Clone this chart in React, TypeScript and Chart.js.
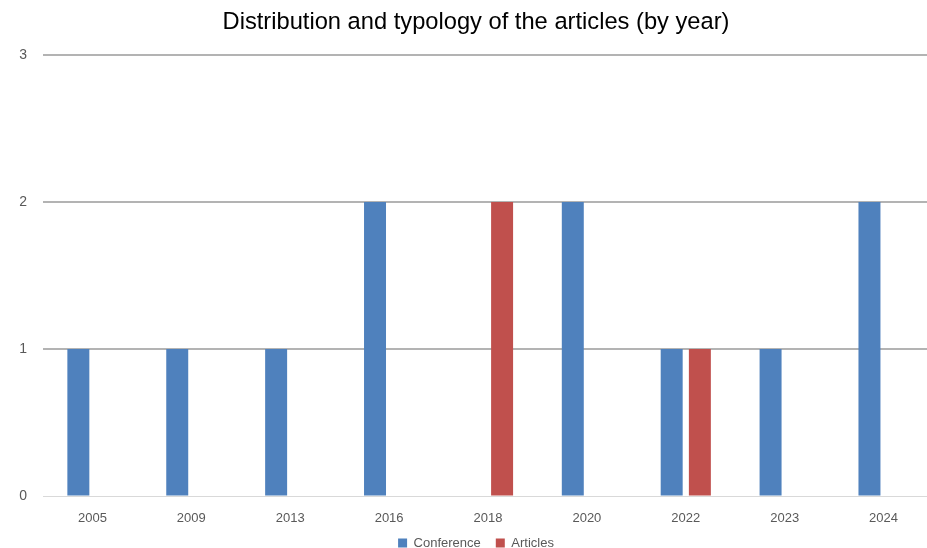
import React, { useEffect, useRef } from "react";
import { Chart, registerables } from "chart.js";

Chart.register(...registerables);

const categories = ["2005", "2009", "2013", "2016", "2018", "2020", "2022", "2023", "2024"];
const conference = [1, 1, 1, 2, 0, 2, 1, 1, 2];
const articles = [0, 0, 0, 0, 2, 0, 1, 0, 0];
const yTicks = [0, 1, 2, 3];
const titleText = "Distribution and typology of the articles (by year)";

const FONT = "'Liberation Sans', Arial, sans-serif";

export default function App() {
  const ref = useRef<HTMLCanvasElement | null>(null);

  useEffect(() => {
    document.body.style.margin = "0";
    const canvas = ref.current;
    if (!canvas) return;
    const chart = new Chart(canvas, {
      type: "bar",
      data: {
        labels: categories,
        datasets: [
          {
            label: "Conference",
            data: conference,
            backgroundColor: "#4F81BD",
            borderWidth: 0,
            barPercentage: 0.78,
            categoryPercentage: 0.57,
          },
          {
            label: "Articles",
            data: articles,
            backgroundColor: "#C0504D",
            borderWidth: 0,
            barPercentage: 0.78,
            categoryPercentage: 0.57,
          },
        ],
      },
      options: {
        responsive: false,
        animation: false,
        devicePixelRatio: 1,
        layout: { padding: { left: 19, right: 1, top: 0, bottom: -11.5 } },
        plugins: {
          title: {
            display: true,
            text: titleText,
            color: "#000000",
            font: { family: FONT, size: 23.7, weight: "normal" },
            padding: { top: 8.5, bottom: 18.2 },
          },
          legend: {
            position: "bottom",
            labels: {
              boxWidth: 9,
              boxHeight: 9,
              color: "#595959",
              font: { family: FONT, size: 13 },
              padding: 15,
            },
          },
          tooltip: { enabled: false },
        },
        scales: {
          x: {
            grid: { display: false },
            border: { display: false },
            ticks: { color: "#595959", font: { family: FONT, size: 13 }, padding: 7 },
            afterFit: (s: any) => {
              s.height = 25.5;
              s._computeLabelArea = () => undefined;
            },
          },
          y: {
            min: 0,
            max: 3,
            afterBuildTicks: (s: any) => {
              s.ticks = yTicks.map((v) => ({ value: v }));
            },
            grid: {
              drawTicks: false,
              color: (ctx: any) => (ctx.tick && ctx.tick.value === 0 ? "#D9D9D9" : "#B3B3B3"),
              lineWidth: (ctx: any) => (ctx.tick && ctx.tick.value === 0 ? 1 : 2),
            },
            border: { display: false },
            ticks: { color: "#595959", font: { family: FONT, size: 14 }, padding: 16 },
            afterFit: (s: any) => {
              s.width = 24;
              s._computeLabelArea = () => undefined;
            },
          },
        },
      },
    });
    return () => chart.destroy();
  }, []);

  return (
    <div style={{ position: "fixed", left: 0, top: 0, width: 934, height: 548, overflow: "hidden", background: "#fff" }}>
      <canvas ref={ref} width={934} height={548} style={{ display: "block" }} />
    </div>
  );
}
